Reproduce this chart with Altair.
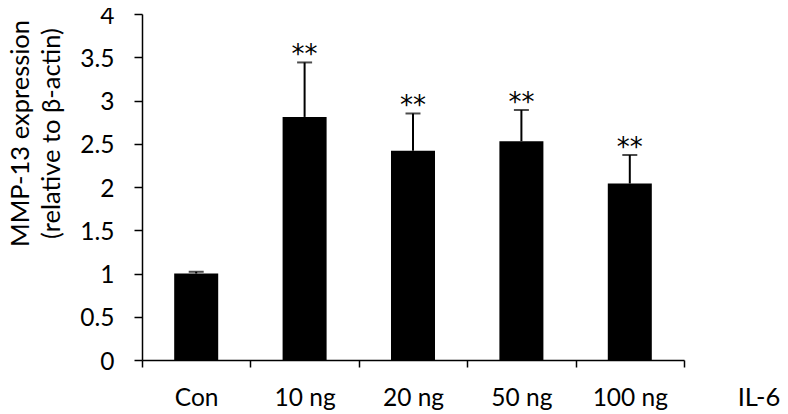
import altair as alt
import pandas as pd

# ---- data ----
categories = ["Con", "10 ng", "20 ng", "50 ng", "100 ng"]
means = [1.0, 2.81, 2.42, 2.53, 2.04]
upper = [1.02, 3.44, 2.85, 2.89, 2.37]
sig = ["", "**", "**", "**", "**"]
y_ticks = [0, 0.5, 1, 1.5, 2, 2.5, 3, 3.5, 4]
y_title = ["MMP-13 expression", "(relative to β-actin)"]
x_title = "IL-6"

df = pd.DataFrame({"group": categories, "mean": means, "upper": upper, "sig": sig})

FONT = "Lato"

x_enc = alt.X(
    "group:N",
    sort=categories,
    scale=alt.Scale(paddingInner=0, paddingOuter=0),
    axis=alt.Axis(
        title=x_title,
        labelAngle=0,
        tickBand="extent",
        tickSize=7,
        labelPadding=38,
        labelBaseline="alphabetic",
        titleX=616.5,
        titleY=45,
        titleAlign="center",
        titleBaseline="alphabetic",
    ),
)


def y_enc(field):
    return alt.Y(
        field,
        type="quantitative",
        scale=alt.Scale(domain=[0, 4], nice=False, zero=True),
        axis=alt.Axis(
            values=y_ticks,
            format="~g",
            title=y_title,
            tickSize=8,
            labelPadding=20,
            labelOffset=2,
            labelBaseline="middle",
            titleX=-114,
            titleY=119,
            titleAngle=270,
            titleAlign="center",
            titleBaseline="alphabetic",
            titleLineHeight=31,
        ),
    )


bars = alt.Chart().mark_bar(color="black", width=alt.RelativeBandSize(0.406)).encode(
    x=x_enc, y=y_enc("mean")
)
rules = alt.Chart().mark_rule(color="black", strokeWidth=2).encode(
    x=x_enc, y=y_enc("mean"), y2="upper:Q"
)
caps = alt.Chart().mark_tick(color="black", thickness=2, size=15).encode(
    x=x_enc, y=y_enc("upper")
)
stars = alt.Chart().mark_text(
    font="DejaVu Sans", fontSize=26, baseline="alphabetic", dy=1, color="black"
).encode(x=x_enc, y=y_enc("upper"), text="sig:N")

chart = (
    alt.layer(bars, rules, caps, stars, data=df)
    .properties(
        width=542,
        height=346,
        padding={"left": 134, "top": 6, "right": 96, "bottom": 54},
        autosize=alt.AutoSizeParams(type="none"),
        background="white",
    )
    .configure_view(stroke=None)
    .configure_axis(
        grid=False,
        domainColor="black",
        tickColor="black",
        labelColor="black",
        titleColor="black",
        labelFont=FONT,
        titleFont=FONT,
        labelFontSize=24.5,
        titleFontSize=25.5,
        titleFontWeight="normal",
        domainWidth=1.5,
        tickWidth=1.5,
    )
)

chart.save("out.html", embed_options={"renderer": "svg", "actions": False})
